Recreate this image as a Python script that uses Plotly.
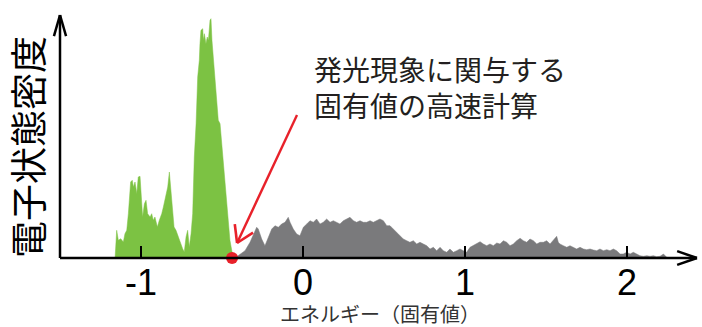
import math
import plotly.graph_objects as go

# Green (occupied) density of states: energy, density
green_e = [-1.160, -1.150, -1.140, -1.125, -1.109, -1.099, -1.088, -1.078, -1.064, -1.054,
           -1.047, -1.037, -1.026, -1.017, -1.006, -1.000, -0.990, -0.979, -0.969, -0.959,
           -0.944, -0.934, -0.924, -0.914, -0.899, -0.887, -0.872, -0.862, -0.848, -0.835,
           -0.825, -0.817, -0.807, -0.796, -0.784, -0.770, -0.759, -0.743, -0.733, -0.722,
           -0.712, -0.702, -0.691, -0.681, -0.671, -0.660, -0.650, -0.640, -0.636, -0.630,
           -0.619, -0.615, -0.609, -0.599, -0.591, -0.584, -0.574, -0.568, -0.562, -0.553,
           -0.543, -0.533, -0.523, -0.512, -0.502, -0.492, -0.481, -0.471, -0.461, -0.451,
           -0.440, -0.430]
green_d = [0, 27.7, 17.7, 19.3, 16, 24.3, 27.7, 44.3, 76, 77.7,
           71, 76, 64.3, 81, 81.7, 64.3, 41, 54.3, 57.7, 44.3,
           41, 44.3, 37.7, 41, 31, 37.7, 44.3, 51, 61, 71,
           86, 71, 51, 31, 27.7, 21, 17.7, 9.3, 6, 21,
           27.7, 11, 24.3, 44.3, 101, 134.3, 181, 197.7, 214.3, 227.7,
           229.3, 217.7, 224.3, 214.3, 221, 217.7, 237.7, 239.3, 217.7, 201,
           174.3, 157.7, 137.7, 134.3, 114.3, 91, 71, 51, 31, 17.7,
           7.7, 0]

# Gray (unoccupied) density of states
gray_e = [-0.420, -0.389, -0.358, -0.327, -0.307, -0.286, -0.276, -0.255, -0.235, -0.214,
          -0.193, -0.173, -0.152, -0.132, -0.111, -0.091, -0.080, -0.060, -0.039, -0.019,
          0.002, 0.023, 0.043, 0.064, 0.084, 0.105, 0.125, 0.146, 0.167, 0.187,
          0.208, 0.228, 0.249, 0.270, 0.290, 0.311, 0.331, 0.352, 0.372, 0.393,
          0.414, 0.434, 0.455, 0.475, 0.496, 0.517, 0.537, 0.558, 0.578, 0.599,
          0.619, 0.640, 0.660, 0.681, 0.702, 0.722, 0.743, 0.764, 0.784, 0.805,
          0.825, 0.846, 0.866, 0.887, 0.907, 0.928, 0.949, 0.969, 0.990, 1.010,
          1.031, 1.051, 1.072, 1.093, 1.113, 1.134, 1.154, 1.175, 1.196, 1.216,
          1.237, 1.257, 1.278, 1.298, 1.319, 1.340, 1.360, 1.381, 1.401, 1.422,
          1.443, 1.463, 1.484, 1.504, 1.525, 1.545, 1.566, 1.576, 1.586, 1.607,
          1.628, 1.648, 1.669, 1.689, 1.710, 1.731, 1.751, 1.772, 1.792, 1.813,
          1.833, 1.854, 1.875, 1.895, 1.916, 1.936, 1.957, 1.977, 1.998, 2.019,
          2.039, 2.060, 2.080, 2.101, 2.122, 2.142, 2.163, 2.183, 2.204, 2.225,
          2.245, 2.265]
gray_d = [0, 4, 7.3, 15.7, 24, 30.7, 29, 19, 12.3, 20.7,
          29, 32.3, 30.7, 34, 35.7, 40.7, 35.7, 29, 24, 22.3,
          30.7, 34, 37.3, 35.7, 39, 34, 35.7, 39, 35.7, 37.3,
          35.7, 34, 37.3, 39, 40.7, 37.3, 35.7, 37.3, 35.7, 35.7,
          37.3, 35.7, 37.3, 39, 37.3, 32.3, 32.3, 29, 25.7, 22.3,
          19, 17.3, 15.7, 17.3, 14, 15.7, 14, 12.3, 9, 10.7,
          7.3, 10.7, 7.3, 5.7, 9, 5.7, 7.3, 9, 7.3, 5.7,
          10.7, 12.3, 14, 16.3, 14, 12.3, 14, 12.3, 15, 14,
          17.3, 15.7, 12.3, 14, 17.3, 19.7, 17.3, 15.7, 19, 17.3,
          14, 15.7, 15.7, 17.3, 14, 17.3, 21.7, 15.7, 14, 12.3,
          10.7, 12.3, 10.7, 9, 10.7, 9, 8.3, 9, 8, 7.3,
          9, 7.3, 8.3, 7.3, 9, 7.3, 4, 4, 5.7, 4,
          5.7, 4, 2.3, 1.7, 2.3, 1.7, 2.3, 1.3, 1.7, 4,
          0.7, 0]

tick_vals = [-1, 0, 1, 2]
tick_text = ["-1", "0", "1", "2"]
homo_point = (-0.438, 0)
# red pointer: from near the note to the HOMO edge
pointer_from = (-0.037, 143)
pointer_to = (-0.407, 15)

x_title = "エネルギー（固有値）"
y_title = "電子状態密度"
note_text = "発光現象に関与する<br>固有値の高速計算"

X_MIN, X_MAX = -1.5, 2.432
Y_MAX = 243

W, H, ML, MB = 702, 327, 60, 69
PW, PH = 637, 243


def px_x(xd):
    return (xd - X_MIN) / (X_MAX - X_MIN)


def px_y(yd):
    return yd / Y_MAX


fig = go.Figure()
fig.add_trace(go.Scatter(x=gray_e, y=gray_d, mode="lines", fill="tozeroy",
                         line=dict(color="#7a7a7c", width=0.5), fillcolor="#7a7a7c",
                         hoverinfo="skip", showlegend=False))
fig.add_trace(go.Scatter(x=green_e, y=green_d, mode="lines", fill="tozeroy",
                         line=dict(color="#7cc243", width=0.5), fillcolor="#7cc243",
                         hoverinfo="skip", showlegend=False))

fig.update_layout(
    width=W, height=H,
    margin=dict(l=ML, r=W - ML - PW, t=H - MB - PH, b=MB),
    paper_bgcolor="white", plot_bgcolor="white",
    font=dict(family="Liberation Sans, Arial, sans-serif", color="black"),
    xaxis=dict(range=[X_MIN, X_MAX], showgrid=False, zeroline=False, showline=False,
               tickvals=tick_vals, ticktext=tick_text, ticks="inside", ticklen=12,
               tickwidth=2, tickcolor="black",
               tickfont=dict(size=36, family="Liberation Sans, Arial, sans-serif")),
    yaxis=dict(range=[0, Y_MAX], showgrid=False, zeroline=False, showline=False,
               showticklabels=False, ticks=""),
)


def line_shape(p0, p1, color, width):
    fig.add_shape(type="line", xref="paper", yref="paper",
                  x0=p0[0], y0=p0[1], x1=p1[0], y1=p1[1],
                  line=dict(color=color, width=width), layer="above")


def chevron(tip, direction, color, width, length, spread_deg):
    # tip, direction in pixel space (x right, y up); draw open chevron
    dx, dy = direction
    n = math.hypot(dx, dy)
    dx, dy = dx / n, dy / n
    for s in (+1, -1):
        a = math.radians(s * spread_deg)
        bx = -(dx * math.cos(a) - dy * math.sin(a))
        by = -(dx * math.sin(a) + dy * math.cos(a))
        end = (tip[0] + bx * length, tip[1] + by * length)
        line_shape((tip[0] / PW, tip[1] / PH), (end[0] / PW, end[1] / PH), color, width)


# x axis with arrow
line_shape((0, 0), (1, 0), "black", 2.5)
chevron((PW, 0), (1, 0), "black", 2.5, 21, 19)
# y axis with arrow
line_shape((0, 0), (0, 1), "black", 2.5)
chevron((0, PH), (0, 1), "black", 2.5, 22, 16)

# red pointer arrow
fx, fy = px_x(pointer_from[0]) * PW, px_y(pointer_from[1]) * PH
tx, ty = px_x(pointer_to[0]) * PW, px_y(pointer_to[1]) * PH
line_shape((fx / PW, fy / PH), (tx / PW, ty / PH), "#e8212a", 2.4)
chevron((tx, ty), (tx - fx, ty - fy), "#e8212a", 2.6, 19, 32)

# red dot on top of axis
fig.add_trace(go.Scatter(x=[homo_point[0]], y=[homo_point[1]], mode="markers",
                         marker=dict(color="#e8212a", size=12), cliponaxis=False,
                         hoverinfo="skip", showlegend=False))

# note text
fig.add_annotation(x=(312 - ML) / PW, y=(H - MB - 87) / PH, xref="paper", yref="paper",
                   text=note_text, showarrow=False, xanchor="left", yanchor="middle",
                   align="left",
                   font=dict(size=28, color="#231f20", family="Noto Sans CJK JP"))

# axis titles
fig.add_annotation(x=(380 - ML) / PW, y=(H - MB - 313) / PH, xref="paper", yref="paper",
                   text=x_title, showarrow=False, xanchor="center", yanchor="middle",
                   font=dict(size=20, color="#333333", family="Noto Sans CJK JP"))
fig.add_annotation(x=(27 - ML) / PW, y=(H - MB - 147) / PH, xref="paper", yref="paper",
                   text=y_title, showarrow=False, xanchor="center", yanchor="middle",
                   textangle=-90,
                   font=dict(size=37, color="black", family="Noto Sans CJK JP"))

fig.write_html("out.html")
